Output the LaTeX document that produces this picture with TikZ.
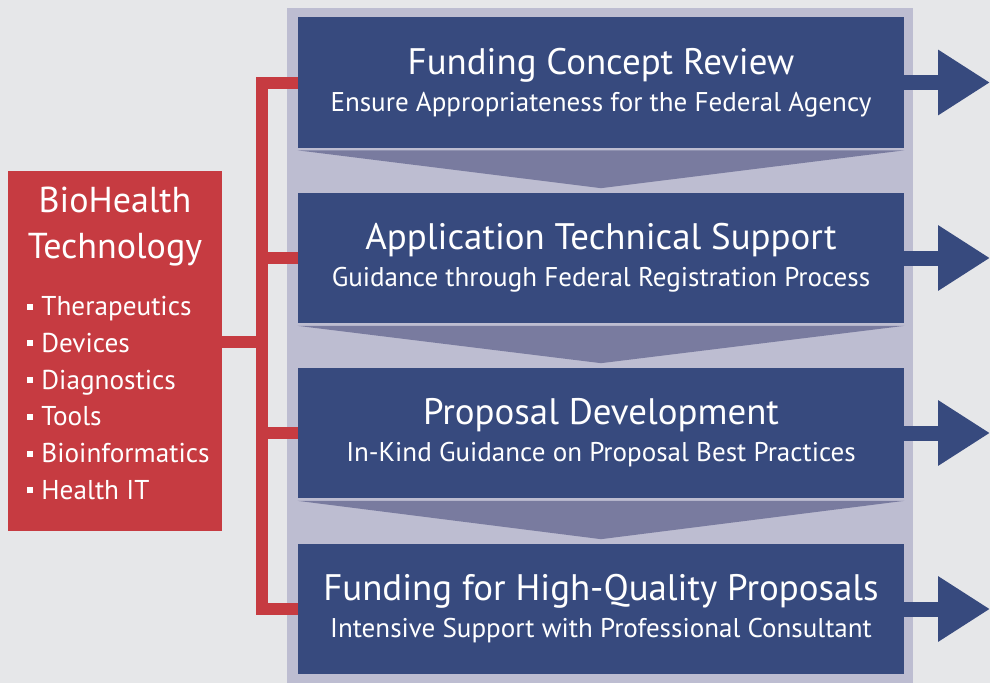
\documentclass[tikz,border=0pt]{standalone}
\usepackage{fontspec}
\setmainfont{PT Sans}
\usetikzlibrary{arrows.meta,calc,positioning}
\definecolor{bgGrey}{HTML}{E6E7E9}
\definecolor{panelGrey}{HTML}{BDBDD1}
\definecolor{stepBlue}{HTML}{374A7E}
\definecolor{chevGrey}{HTML}{797B9F}
\definecolor{bioRed}{HTML}{C63B41}
\newcommand{\sqbul}{\rule[3.4pt]{3.4pt}{3.4pt}\hspace{4.6pt}}

\begin{document}
\begin{tikzpicture}[x=0.02cm,y=-0.02cm,
	stepbox/.style={fill=stepBlue, minimum width=12.12cm, minimum height=2.62cm, inner sep=0pt, text=white, align=center, font=\fontsize{15.4}{21}\selectfont},
	chevron/.style={fill=chevGrey},
	redline/.style={draw=bioRed, line width=0.24cm, line join=miter},
	outarrow/.style={draw=stepBlue, line width=0.3cm, -{Triangle[length=1.04cm,width=1.24cm]}}]

								\useasboundingbox[fill=bgGrey] (0,0) rectangle (990,683);
								\fill[panelGrey] (287,8) rectangle (913,683);

								% red connectors
								\coordinate (j) at (262,342);
								\node (bio) [fill=bioRed, minimum width=4.28cm, minimum height=7.22cm, inner sep=0pt] at (115,351) {};
								\draw[redline] (bio.east |- j) -- (j);

								\node (b1) [stepbox] at (601,82.5) {{\fontsize{21}{22}\selectfont Funding Concept Review}\\Ensure Appropriateness for the Federal Agency};
								\node (b2) [stepbox] at (601,258) {{\fontsize{21}{22}\selectfont Application Technical Support}\\Guidance through Federal Registration Process};
								\node (b3) [stepbox] at (601,433) {{\fontsize{21}{22}\selectfont Proposal Development}\\In-Kind Guidance on Proposal Best Practices};
								\node (b4) [stepbox] at (601,609) {{\fontsize{21}{22}\selectfont Funding for High-Quality Proposals}\\Intensive Support with Professional Consultant};

								\draw[redline] (b1.west) -| (j) |- (b4.west);
								\draw[redline] (j |- b2.west) -- (b2.west);
								\draw[redline] (j |- b3.west) -- (b3.west);

								\fill[chevron] ($(b1.south west)+(0,2)$) -- ($(b1.south east)+(0,2)$) -- ($(b2.north)+(0,-4)$) -- cycle;
								\fill[chevron] ($(b2.south west)+(0,2)$) -- ($(b2.south east)+(0,2)$) -- ($(b3.north)+(0,-4)$) -- cycle;
								\fill[chevron] ($(b3.south west)+(0,2)$) -- ($(b3.south east)+(0,2)$) -- ($(b4.north)+(0,-4)$) -- cycle;

								\coordinate (o1) at (990,82.5);
								\coordinate (o2) at (990,258);
								\coordinate (o3) at (990,433);
								\coordinate (o4) at (990,609);
								\draw[outarrow] (b1.east) -- (o1);
								\draw[outarrow] (b2.east) -- (o2);
								\draw[outarrow] (b3.east) -- (o3);
								\draw[outarrow] (b4.east) -- (o4);

								\node (biohead) [anchor=north, inner sep=0pt, text=white, align=center, font=\fontsize{20.5}{26}\selectfont] at (115,187) {BioHealth\\Technology};
								\node (biolist) [anchor=north west, inner sep=0pt, text=white, align=left, font=\fontsize{15.5}{20.9}\selectfont] at (27,296)
									{\sqbul Therapeutics\\\sqbul Devices\\\sqbul Diagnostics\\\sqbul Tools\\\sqbul Bioinformatics\\\sqbul Health IT};
							\end{tikzpicture}
\end{document}
